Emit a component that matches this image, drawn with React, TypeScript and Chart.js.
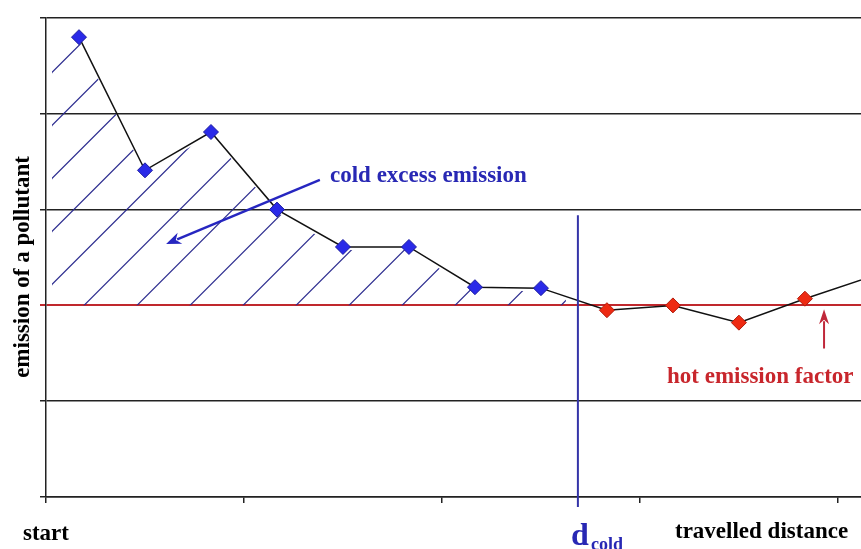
import { useEffect, useRef } from "react";
import { Chart, registerables } from "chart.js";

Chart.register(...registerables);

// travelled distance (x, arbitrary units) of each measurement
const distance = [0.5, 1.5, 2.5, 3.5, 4.5, 5.5, 6.5, 7.5, 8.5, 9.5, 10.5, 11.5, 12.5];
// emission during the cold phase (blue diamonds)
const coldPhase = [4.8, 3.41, 3.81, 3.0, 2.61, 2.61, 2.19, 2.18];
// emission once the engine is hot (red diamonds); last value lies beyond the frame
const hotPhase = [1.95, 2.0, 1.82, 2.07, 2.3];
const hotEmissionFactor = 2;
const dCold = 8.06;
const dColdTop = 2.94;
const xTicks = [0, 3, 6, 9, 12];
const yTicks = [0, 1, 2, 3, 4, 5];

const emission = [...coldPhase, ...hotPhase];

const BLUE_TXT = "#2828b4";
const RED_TXT = "#c8262c";
const SERIF = '"Liberation Serif", "Times New Roman", serif';

function arrow(ctx: CanvasRenderingContext2D, x1: number, y1: number, x2: number, y2: number, color: string, w: number, headLen: number, headW: number) {
  const a = Math.atan2(y2 - y1, x2 - x1);
  const bx = x2 - Math.cos(a) * headLen;
  const by = y2 - Math.sin(a) * headLen;
  ctx.save();
  ctx.strokeStyle = color;
  ctx.fillStyle = color;
  ctx.lineWidth = w;
  ctx.beginPath();
  ctx.moveTo(x1, y1);
  ctx.lineTo(bx + Math.cos(a) * 3, by + Math.sin(a) * 3);
  ctx.stroke();
  ctx.beginPath();
  ctx.moveTo(x2, y2);
  ctx.lineTo(bx - Math.sin(a) * headW, by + Math.cos(a) * headW);
  ctx.lineTo(bx + Math.cos(a) * headLen * 0.3, by + Math.sin(a) * headLen * 0.3);
  ctx.lineTo(bx + Math.sin(a) * headW, by - Math.cos(a) * headW);
  ctx.closePath();
  ctx.fill();
  ctx.restore();
}

const decorations = {
  id: "decorations",
  beforeDatasetsDraw(chart: any) {
    const { ctx, chartArea, scales } = chart;
    const xs = scales.x;
    const ys = scales.y;
    const baseY = ys.getPixelForValue(hotEmissionFactor);
    const leftX = chartArea.left + 6;
    const rightX = xs.getPixelForValue(dCold) - 12;
    // clip region: between the cold-phase curve and hot emission factor
    ctx.save();
    ctx.beginPath();
    ctx.moveTo(leftX, ys.getPixelForValue(coldPhase[0]) + 4);
    for (let i = 0; i < coldPhase.length; i++) {
      ctx.lineTo(xs.getPixelForValue(distance[i]), ys.getPixelForValue(emission[i]) + 3);
    }
    ctx.lineTo(xs.getPixelForValue(distance[8]), ys.getPixelForValue(emission[8]) + 3);
    ctx.lineTo(xs.getPixelForValue(distance[8]), baseY);
    ctx.lineTo(leftX, baseY);
    ctx.closePath();
    ctx.clip();
    ctx.beginPath();
    ctx.rect(leftX, chartArea.top, rightX - leftX, baseY - chartArea.top);
    ctx.clip();
    ctx.strokeStyle = "#2a2a8e";
    ctx.lineWidth = 1.2;
    const slope = 1.0;
    for (let k = -12; k < 14; k++) {
      const x0 = xs.getPixelForValue(0) + 38 + 53 * k;
      ctx.beginPath();
      ctx.moveTo(x0 - 400, baseY + 400 * slope);
      ctx.lineTo(x0 + 400, baseY - 400 * slope);
      ctx.stroke();
    }
    ctx.restore();
  },
  afterDraw(chart: any) {
    const { ctx, scales } = chart;
    const xs = scales.x;
    const ys = scales.y;
    ctx.save();
    // d_cold vertical line
    ctx.strokeStyle = "#3434a8";
    ctx.lineWidth = 2;
    ctx.beginPath();
    const dx = xs.getPixelForValue(dCold);
    ctx.moveTo(dx, ys.getPixelForValue(dColdTop));
    ctx.lineTo(dx, ys.getPixelForValue(0) + 10);
    ctx.stroke();

    // arrows
    arrow(ctx, xs.getPixelForValue(4.15), ys.getPixelForValue(3.31), xs.getPixelForValue(1.82), ys.getPixelForValue(2.64), "#2626c0", 2.5, 15, 6);
    arrow(ctx, xs.getPixelForValue(11.79), ys.getPixelForValue(1.55), xs.getPixelForValue(11.79), ys.getPixelForValue(1.96), "#c0283a", 2, 15, 5);

    // texts
    ctx.textBaseline = "alphabetic";
    ctx.textAlign = "left";
    ctx.font = `bold 23px ${SERIF}`;
    ctx.fillStyle = BLUE_TXT;
    ctx.fillText("cold excess emission", 330, 182);
    ctx.fillStyle = RED_TXT;
    ctx.fillText("hot emission factor", 667, 383);
    ctx.fillStyle = "#000";
    ctx.fillText("start", 23, 540);
    ctx.fillText("travelled distance", 675, 538);
    ctx.fillStyle = BLUE_TXT;
    ctx.font = `bold 32px ${SERIF}`;
    ctx.fillText("d", 571, 545);
    ctx.font = `bold 18px ${SERIF}`;
    ctx.fillText("cold", 591, 550);

    ctx.fillStyle = "#000";
    ctx.font = `bold 23px ${SERIF}`;
    ctx.translate(23, 267);
    ctx.rotate(-Math.PI / 2);
    ctx.textAlign = "center";
    ctx.textBaseline = "middle";
    ctx.fillText("emission of a pollutant", 0, 0);
    ctx.restore();
  },
};

export default function App() {
  const ref = useRef<HTMLCanvasElement | null>(null);
  useEffect(() => {
    if (!ref.current) return;
    const n = emission.length;
    const chart = new Chart(ref.current, {
      type: "line",
      data: {
        datasets: [
          {
            data: distance.map((d, i) => ({ x: d, y: emission[i] })),
            borderColor: "#111",
            borderWidth: 1.5,
            pointStyle: "rectRot",
            pointRadius: emission.map((_, i) => (i === n - 1 ? 0 : 7.5)),
            pointBackgroundColor: emission.map((_, i) => (i < coldPhase.length ? "#2a2ae8" : "#ee2a12")),
            pointBorderColor: emission.map((_, i) => (i < coldPhase.length ? "#1c1ca0" : "#b01c0c")),
            pointBorderWidth: 1,
            tension: 0,
            fill: false,
          } as any,
        ],
      },
      options: {
        animation: false,
        responsive: false,
        devicePixelRatio: 1,
        events: [],
        layout: { autoPadding: false, padding: { left: 40, top: 18, right: 0, bottom: 46 } },
        plugins: { legend: { display: false }, tooltip: { enabled: false } },
        scales: {
          x: {
            type: "linear",
            min: 0,
            max: 12.35,
            afterBuildTicks: (s: any) => {
              s.ticks = xTicks.map((v) => ({ value: v }));
            },
            ticks: { display: false },
            grid: { drawOnChartArea: false, drawTicks: true, tickLength: 6, color: "#222", lineWidth: 1.5 },
            border: { color: "#222", width: 1.5 },
          },
          y: {
            type: "linear",
            min: 0,
            max: 5,
            afterBuildTicks: (s: any) => {
              s.ticks = yTicks.map((v) => ({ value: v }));
            },
            ticks: { display: false },
            grid: {
              drawTicks: true,
              tickLength: 6,
              color: (c: any) => (c.tick && c.tick.value === hotEmissionFactor ? "#c0282d" : "#222"),
              lineWidth: (c: any) => (c.tick && c.tick.value === hotEmissionFactor ? 2 : 1.5),
            },
            border: { color: "#222", width: 1.5 },
          },
        },
      } as any,
      plugins: [decorations],
    });
    return () => chart.destroy();
  }, []);
  return (
    <div style={{ position: "absolute", left: 0, top: 0, width: 861, height: 549 }}>
      <canvas ref={ref} width={861} height={549} style={{ display: "block" }} />
    </div>
  );
}
